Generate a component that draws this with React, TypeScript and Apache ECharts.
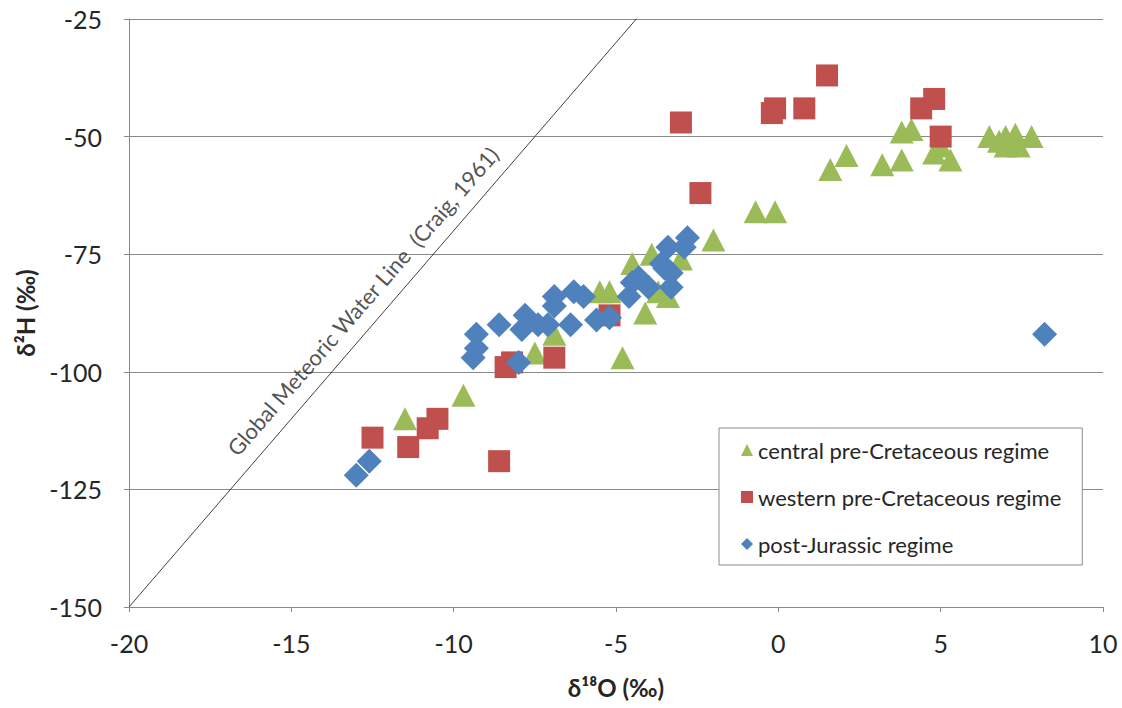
import React, { useEffect, useRef } from "react";
import * as echarts from "echarts";

const seriesNames = [
  "central pre-Cretaceous regime",
  "western pre-Cretaceous regime",
  "post-Jurassic regime",
];

// [δ18O, δ2H]
const centralPoints: number[][] = [
  [-11.5, -110], [-9.7, -105], [-7.5, -96], [-6.9, -92], [-4.8, -97],
  [-5.5, -83], [-5.2, -83], [-4.5, -77], [-4.1, -87.5], [-3.9, -75],
  [-3.4, -84], [-3.0, -76], [-3.7, -83], [-2.0, -72], [-0.7, -66],
  [-0.1, -66], [1.6, -57], [2.1, -54], [3.2, -56], [3.8, -55],
  [3.8, -49], [4.1, -48.5], [4.8, -53.5], [5.3, -55], [5.0, -52],
  [6.5, -50], [6.8, -51], [7.0, -50], [7.3, -49.5], [7.8, -50],
  [7.0, -52], [7.4, -52],
];

const westernPoints: number[][] = [
  [-12.5, -114], [-11.4, -116], [-10.8, -112], [-10.5, -110], [-8.6, -119],
  [-8.4, -99], [-8.2, -98], [-6.9, -97], [-5.2, -88], [-3.0, -47],
  [-2.4, -62], [-0.2, -45], [-0.1, -44], [0.8, -44], [1.5, -37],
  [4.4, -44], [4.8, -42], [5.0, -50],
];

const postJurassicPoints: number[][] = [
  [-13.0, -122], [-12.6, -119], [-9.4, -97], [-9.3, -95], [-9.3, -92],
  [-8.6, -90], [-8.0, -98], [-7.8, -88], [-7.9, -91], [-7.4, -90],
  [-7.1, -90], [-6.9, -84], [-6.9, -86], [-6.4, -90], [-6.3, -83],
  [-6.0, -84], [-5.6, -89], [-5.2, -88.5], [-4.6, -84], [-4.5, -81],
  [-4.3, -80], [-4.0, -82], [-3.6, -77], [-3.5, -78], [-3.3, -79],
  [-3.3, -82], [-3.4, -73.5], [-2.9, -73.5], [-2.8, -71.5], [8.2, -92],
];

// Global Meteoric Water Line δ2H = 8·δ18O + 10, drawn between these two points
const gmwlPoints: number[][] = [
  [-20, -150],
  [-4.375, -25],
];
const gmwlLabel = "Global Meteoric Water Line  (Craig, 1961)";
const gmwlLabelAt: number[][] = [[-12.8, -85]];

const xTicks = { min: -20, max: 10, interval: 5 };
const yTicks = { min: -150, max: -25, interval: 25 };

const FONT = "Lato, 'Open Sans', sans-serif";
const GREEN = "#9BBB59";
const RED = "#C0504D";
const BLUE = "#4F81BD";
const GRID = "#8a8a8a";

export default function App() {
  const ref = useRef<HTMLDivElement>(null);

  useEffect(() => {
    if (!ref.current) return;
    const chart = echarts.init(ref.current, undefined, { renderer: "svg" });
    chart.setOption({
      animation: false,
      backgroundColor: "#ffffff",
      textStyle: { fontFamily: FONT },
      grid: { left: 129, right: 19, top: 19, bottom: 101 },
      legend: {
        data: seriesNames,
        orient: "vertical",
        left: 719,
        top: 428,
        backgroundColor: "#ffffff",
        borderColor: "#8c8c8c",
        borderWidth: 1,
        borderRadius: 0,
        padding: [11, 21, 10, 22],
        itemGap: 25,
        itemWidth: 12,
        itemHeight: 12,
        textStyle: { fontFamily: FONT, fontSize: 22, color: "#262626", lineHeight: 20 },
      },
      xAxis: {
        type: "value",
        min: xTicks.min,
        max: xTicks.max,
        interval: xTicks.interval,
        name: "δ¹⁸O (‰)",
        nameLocation: "middle",
        nameGap: 68,
        nameTextStyle: { fontFamily: FONT, fontSize: 24, fontWeight: "bold", color: "#262626" },
        axisLine: { show: true, onZero: false, lineStyle: { color: GRID, width: 1 } },
        axisTick: { show: true, length: 5, lineStyle: { color: GRID } },
        axisLabel: { margin: 23, fontSize: 25, color: "#262626", fontFamily: FONT },
        splitLine: { show: false },
      },
      yAxis: {
        type: "value",
        min: yTicks.min,
        max: yTicks.max,
        interval: yTicks.interval,
        name: "δ²H (‰)",
        nameLocation: "middle",
        nameGap: 92,
        nameRotate: 90,
        nameTextStyle: { fontFamily: FONT, fontSize: 24, fontWeight: "bold", color: "#262626" },
        axisLine: { show: true, onZero: false, lineStyle: { color: GRID, width: 1 } },
        axisTick: { show: true, length: 5, lineStyle: { color: GRID } },
        axisLabel: { margin: 27, fontSize: 25, color: "#262626", fontFamily: FONT },
        splitLine: { show: true, lineStyle: { color: GRID, width: 1 } },
      },
      series: [
        {
          name: "GMWL",
          type: "line",
          data: gmwlPoints,
          symbol: "none",
          silent: true,
          lineStyle: { color: "#404040", width: 1 },
          z: 1,
        },
        {
          name: "GMWL label",
          type: "scatter",
          data: gmwlLabelAt,
          symbolSize: 0,
          silent: true,
          label: {
            show: true,
            position: "inside",
            formatter: gmwlLabel,
            rotate: 49,
            fontSize: 22,
            fontFamily: FONT,
            color: "#262626",
          },
          z: 1,
        },
        {
          name: seriesNames[0],
          type: "scatter",
          data: centralPoints,
          symbol: "triangle",
          symbolSize: [24, 23],
          itemStyle: { color: GREEN, opacity: 1 },
          z: 2,
        },
        {
          name: seriesNames[1],
          type: "scatter",
          data: westernPoints,
          symbol: "rect",
          symbolSize: 22,
          itemStyle: { color: RED, opacity: 1 },
          z: 3,
        },
        {
          name: seriesNames[2],
          type: "scatter",
          data: postJurassicPoints,
          symbol: "diamond",
          symbolSize: 25,
          itemStyle: { color: BLUE, opacity: 1 },
          z: 4,
        },
      ],
    });
    return () => chart.dispose();
  }, []);

  return <div ref={ref} style={{ width: 1122, height: 708, position: "absolute", left: 0, top: 0 }} />;
}
